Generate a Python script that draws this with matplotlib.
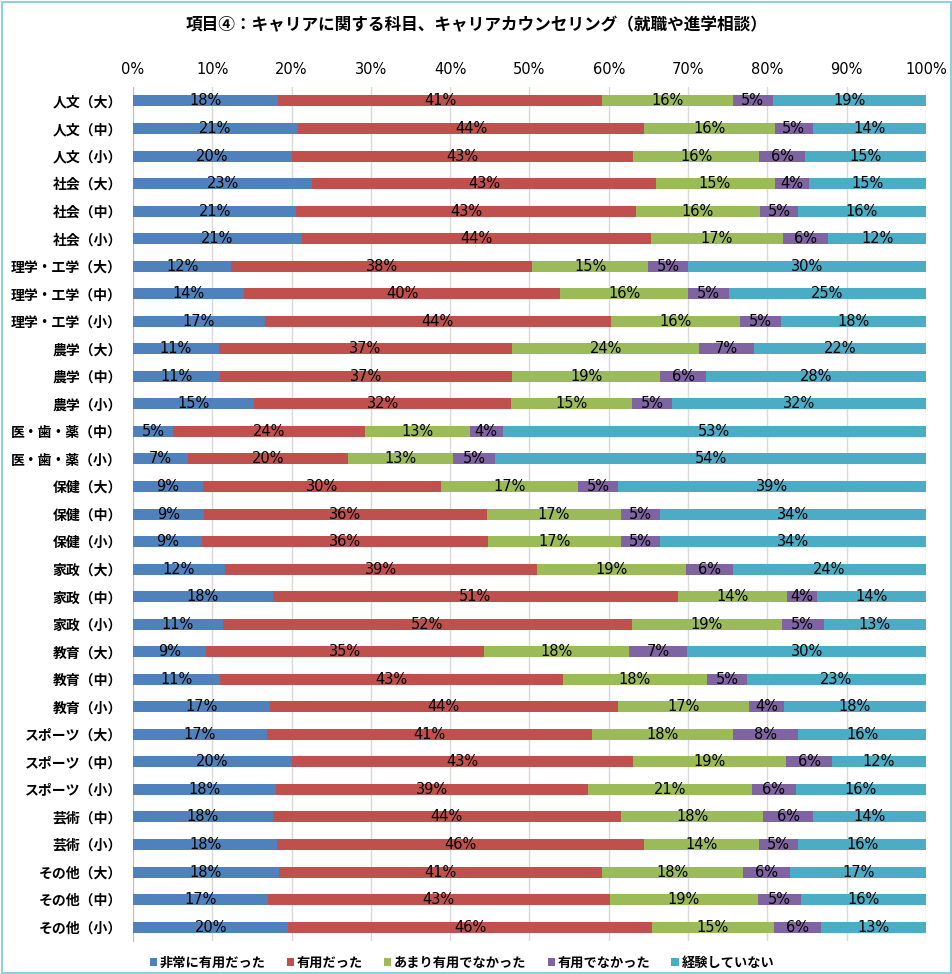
import matplotlib.pyplot as plt
from matplotlib.patches import Rectangle
import numpy as np

plt.rcParams['font.family'] = ['Noto Sans CJK JP', 'DejaVu Sans']

# data (percent)
categories = ['人文（大）', '人文（中）', '人文（小）',
              '社会（大）', '社会（中）', '社会（小）',
              '理学・工学（大）', '理学・工学（中）', '理学・工学（小）',
              '農学（大）', '農学（中）', '農学（小）',
              '医・歯・薬（中）', '医・歯・薬（小）',
              '保健（大）', '保健（中）', '保健（小）',
              '家政（大）', '家政（中）', '家政（小）',
              '教育（大）', '教育（中）', '教育（小）',
              'スポーツ（大）', 'スポーツ（中）', 'スポーツ（小）',
              '芸術（中）', '芸術（小）',
              'その他（大）', 'その他（中）', 'その他（小）']

very_useful = [18.3, 20.8, 20.0, 22.6, 20.6, 21.3, 12.4, 14.0, 16.6, 10.8, 11.0,
               15.3, 5.0, 6.9, 8.8, 8.9, 8.7, 11.6, 17.6, 11.3, 9.2, 11.0,
               17.3, 16.9, 20.0, 18.0, 17.6, 18.2, 18.4, 17.0, 19.6]
useful = [40.9, 43.7, 43.1, 43.3, 42.8, 44.0, 37.9, 39.9, 43.7, 37.0, 36.8,
          32.4, 24.3, 20.2, 30.0, 35.7, 36.1, 39.4, 51.1, 51.6, 35.0, 43.2,
          43.8, 41.0, 43.1, 39.4, 43.9, 46.3, 40.8, 43.1, 45.8]
not_very = [16.4, 16.4, 15.9, 15.0, 15.7, 16.7, 14.7, 16.1, 16.3, 23.6, 18.7,
            15.2, 13.2, 13.2, 17.3, 16.9, 16.8, 18.7, 13.8, 18.9, 18.4, 18.2,
            16.6, 17.8, 19.3, 20.6, 18.0, 14.4, 17.7, 18.7, 15.4]
not_useful = [5.1, 4.8, 5.8, 4.4, 4.7, 5.7, 5.0, 5.1, 5.1, 6.9, 5.8,
              5.1, 4.1, 5.4, 5.1, 4.9, 4.8, 5.9, 3.8, 5.3, 7.3, 5.0,
              4.4, 8.2, 5.7, 5.6, 6.2, 5.0, 6.0, 5.4, 5.9]
no_exp = [19.3, 14.3, 15.2, 14.7, 16.2, 12.3, 30.0, 24.9, 18.3, 21.7, 27.7,
          32.0, 53.4, 54.3, 38.8, 33.6, 33.6, 24.4, 13.7, 12.9, 30.1, 22.6,
          17.9, 16.1, 11.9, 16.4, 14.3, 16.1, 17.1, 15.8, 13.3]

series = ['非常に有用だった', '有用だった', 'あまり有用でなかった', '有用でなかった', '経験していない']
colors = ['#4F81BD', '#C0504D', '#9BBB59', '#8064A2', '#4BACC6']

fig = plt.figure(figsize=(9.53, 9.74), dpi=100)
ax = fig.add_axes([133/953, 0.034, 793/953, 0.8765])

y = np.arange(len(categories))
left = np.zeros(len(categories))
for name, vals, c in zip(series, [very_useful, useful, not_very, not_useful, no_exp], colors):
    vals = np.array(vals)
    bars = ax.barh(y, vals, left=left, height=0.4, color=c, label=name, zorder=3)
    ax.bar_label(bars, labels=[f'{v:.0f}%' for v in vals], label_type='center',
                 fontsize=10.5, family='DejaVu Sans', color='black', zorder=4)
    left += vals

ax.set_xlim(0, 100)
ax.set_ylim(len(categories) - 0.5, -0.5)
ax.set_yticks(y)
ax.set_yticklabels(categories, fontsize=10, fontweight='bold')
ax.set_xticks(np.arange(0, 101, 10))
ax.set_xticklabels([f'{t}%' for t in range(0, 101, 10)], fontsize=10.5, family='DejaVu Sans')
ax.xaxis.tick_top()
ax.tick_params(axis='both', length=0)
ax.tick_params(axis='y', pad=8)
ax.tick_params(axis='x', pad=7)
ax.grid(axis='x', color='#d9d9d9', linewidth=1, zorder=0)
for s in ['top', 'right', 'bottom']:
    ax.spines[s].set_visible(False)
ax.spines['left'].set_color('#bfbfbf')

fig.text(0.5, 1 - 25/974, '項目④：キャリアに関する科目、キャリアカウンセリング（就職や進学相談）',
         ha='center', va='center', fontsize=12, fontweight='bold')

fig.legend(loc='center', bbox_to_anchor=(462/953, 1 - 963/974), ncol=5, frameon=False,
           handlelength=0.55, handleheight=0.55, handletextpad=0.2,
           columnspacing=1.6, prop={'weight': 'bold', 'size': 9.5})

fig.patches.append(Rectangle((0.002, 0.001), 0.996, 0.997, transform=fig.transFigure,
                             fill=False, edgecolor='#8fcfe6', linewidth=1.5))

plt.savefig('out.png', dpi=100)
